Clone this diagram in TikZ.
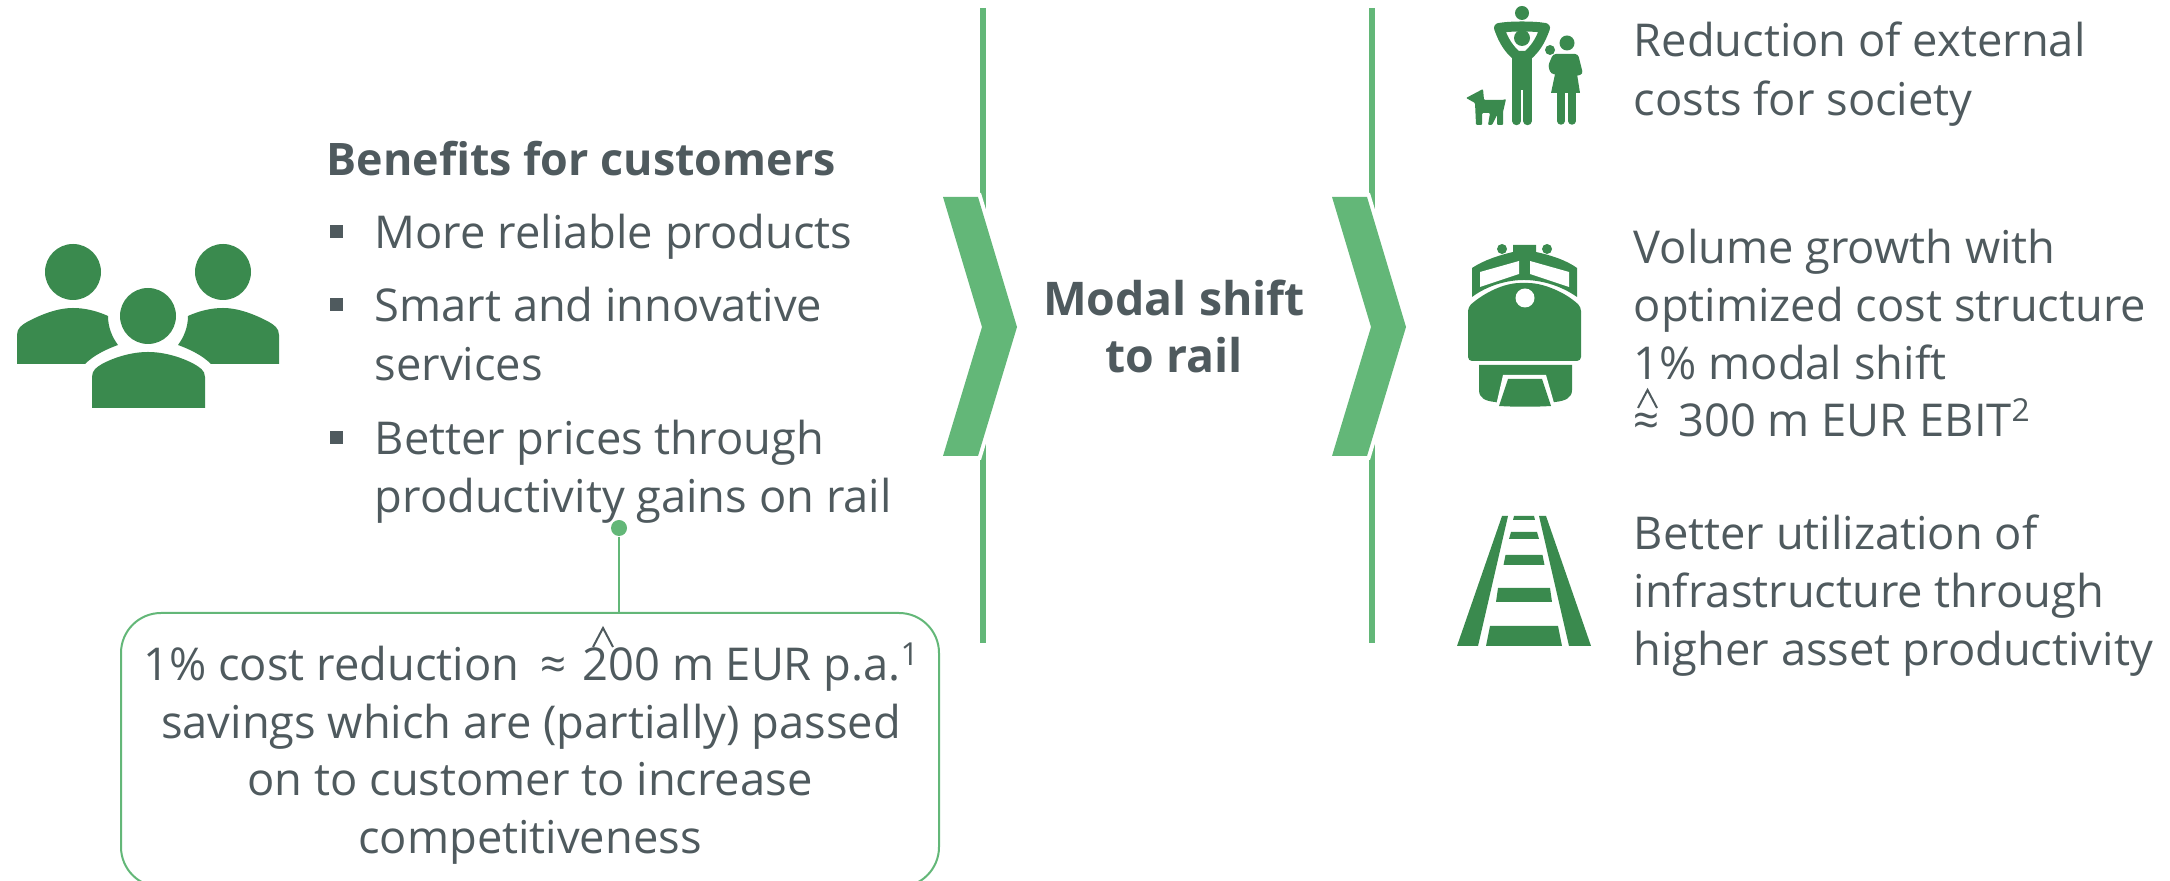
\documentclass[tikz,border=0pt]{standalone}
\usepackage{fontspec}
\setmainfont{Open Sans}
\usepackage{tikz}
\usetikzlibrary{positioning}
\definecolor{leafgreen}{HTML}{3A8A4E}
\definecolor{palegreen}{HTML}{63B778}
\definecolor{slatetext}{HTML}{4F5A5E}

\begin{document}
\begin{tikzpicture}[x=0.1mm,y=-0.1mm,
                    bodytext/.style={anchor=base west,inner sep=0,align=left,text=slatetext,font=\fontsize{12.88}{16.4}\selectfont},
                    midtext/.style={anchor=base,inner sep=0,align=center,text=slatetext,font=\fontsize{12.88}{16.4}\selectfont},
                    headtext/.style={anchor=base,inner sep=0,align=center,text=slatetext,font=\fontsize{13.2}{16.4}\selectfont\bfseries},
                    bullet/.style={rectangle,fill=slatetext,inner sep=0,minimum size=1.3mm},
                    pin/.style={circle,fill=palegreen,inner sep=0,minimum size=1.6mm},
                    callout/.style={rectangle,rounded corners=4mm,draw=palegreen,line width=0.2mm,minimum width=81.8mm,minimum height=27.4mm,anchor=north west},
                    hatline/.style={draw=slatetext,line width=0.2mm},
                    rule/.style={draw=palegreen,line width=0.6mm}
                ]
    \useasboundingbox (0,0) rectangle (2170,881);

    % customers
    \foreach \x/\y in {73/272,223/272,148/316}
        {
        \fill[leafgreen] (\x,\y) circle (28);
        }
    \fill[leafgreen] (17,364) -- (17,335) .. controls (17,328) and (22,325) .. (27,322) .. controls (40,315) and (57,308) .. (73,308) .. controls (85,308) and (97,311) .. (108,316) .. controls (108,327) and (112,337) .. (118,345) .. controls (107,349) and (94,355) .. (85,364) -- cycle;
    \fill[leafgreen] (279,364) -- (279,335) .. controls (279,328) and (274,325) .. (269,322) .. controls (256,315) and (239,308) .. (223,308) .. controls (211,308) and (199,311) .. (188,316) .. controls (188,327) and (184,337) .. (178,345) .. controls (189,349) and (202,355) .. (211,364) -- cycle;
    \fill[leafgreen] (92,408) -- (92,377) .. controls (92,370) and (97,367) .. (102,364) .. controls (115,357) and (132,352) .. (148,352) .. controls (164,352) and (181,357) .. (194,364) .. controls (199,367) and (205,370) .. (205,377) -- (205,408) -- cycle;

    \node[headtext,anchor=base west,font=\fontsize{12.75}{16.4}\selectfont\bfseries] (benefits) at (326,176) {Benefits for customers};
    \foreach \y in {232,305,438}
        {
        \node[bullet] at (336,\y) {};
        }
    \node[bodytext] (reliable) at (374,249) {More reliable products};
    \node[bodytext] (smart) at (374,322) {Smart and innovative};
    \node[bodytext] (services) at (374,381) {services};
    \node[bodytext] (prices) at (374,455) {Better prices through};
    \node[bodytext] (gains) at (374,513) {productivity gains on rail};

    % savings
    \node[pin] (dot) at (619,528) {};
    \node[callout] (savings) at (120,612) {};
    \draw[draw=palegreen,line width=0.25mm] (dot) -- (dot |- savings.north);
    \node[midtext] (costline) at (532,681) {1\% cost reduction\hspace{1mm} ≈\hspace{0.4mm} 200 m EUR p.a.\textsuperscript{1}};
    \node[midtext] (passedline) at (531,739) {savings which are (partially) passed};
    \node[midtext] (onlineline) at (530,796) {on to customer to increase};
    \node[midtext] (compline) at (530,854) {competitiveness};
    \draw[hatline] (593,647) -- (603,628) -- (613,647);

    % chevrons
    \foreach \x in {0,389}
        {
        \draw[rule] (983+\x,8) -- (983+\x,643);
        \fill[palegreen,preaction={draw=white,line width=0.8mm}] (943+\x,197) -- (978+\x,197) -- (1017+\x,327) -- (978+\x,456) -- (943+\x,456) -- (982+\x,327) -- cycle;
        }
    \node[headtext] (modal) at (1174,316) {Modal shift};
    \node[headtext] (torail) at (1174,373) {to rail};

    % family
    \fill[leafgreen] (1522,13) circle (7);
    \draw[leafgreen,line width=1mm,line join=round] (1499,28) .. controls (1510,26) and (1534,26) .. (1545,28) .. controls (1540,42) and (1535,49) .. (1527,56) -- (1517,56) .. controls (1509,49) and (1504,42) .. (1499,28) -- cycle;
    \fill[leafgreen] (1522,38) circle (8);
    \fill[leafgreen] (1512,52) rectangle (1532,90);
    \draw[leafgreen,line width=0.85mm,line cap=round] (1516.5,85) -- (1516.5,121);
    \draw[leafgreen,line width=0.85mm,line cap=round] (1527.5,85) -- (1527.5,121);
    \fill[leafgreen] (1567,43) circle (7.5);
    \fill[leafgreen] (1550,50) circle (5);
    \fill[leafgreen,rounded corners=0.3mm] (1553,54) -- (1578,54) -- (1583,74) -- (1577,76) -- (1551,74) -- (1548,66) -- cycle;
    \fill[leafgreen] (1555,74) -- (1577,74) -- (1580,93) -- (1551,93) -- cycle;
    \draw[leafgreen,line width=0.75mm,line cap=round] (1561,90) -- (1561,121);
    \draw[leafgreen,line width=0.75mm,line cap=round] (1572,90) -- (1572,121);
    \fill[leafgreen,rounded corners=0.1mm] (1466,98) -- (1483,89) -- (1484,100) -- (1503,100) -- (1506,99) -- (1503,112) -- (1503,125) -- (1497,125) -- (1497,115) -- (1492,125) -- (1488,125) -- (1490,113) -- (1482,113) -- (1482,125) -- (1476,125) -- (1475,103) -- cycle;

    % locomotive
    \fill[leafgreen] (1472,268) .. controls (1484,260) and (1500,255) .. (1513,252) -- (1513,245) -- (1536,245) -- (1536,252) .. controls (1550,255) and (1566,260) .. (1577,268) -- (1577,297) .. controls (1560,285) and (1540,280) .. (1524,280) .. controls (1508,280) and (1488,285) .. (1472,297) -- cycle;
    \fill[white] (1480,272) -- (1519,261) -- (1519,274) -- (1480,287) -- cycle;
    \fill[white] (1530,261) -- (1569,272) -- (1569,287) -- (1530,274) -- cycle;
    \foreach \x in {1502,1547}
        {
        \fill[leafgreen] (\x,249) circle (5);
        }
    \fill[leafgreen,rounded corners=0.4mm] (1468,361) -- (1468,307) .. controls (1485,292) and (1505,283) .. (1524,283) .. controls (1543,283) and (1565,292) .. (1581,307) -- (1581,361) -- cycle;
    \fill[white] (1525,298) circle (9.5);
    \fill[leafgreen] (1479,365) -- (1572,365) -- (1572,390) .. controls (1572,398) and (1565,401) .. (1555,402) .. controls (1535,407) and (1515,407) .. (1495,402) .. controls (1485,401) and (1479,398) .. (1479,390) -- cycle;
    \fill[white] (1503,375) -- (1546,375) -- (1556,410) -- (1495,410) -- cycle;
    \fill[leafgreen] (1508,379) -- (1542,379) -- (1551,406) .. controls (1535,407) and (1515,407) .. (1499,406) -- cycle;

    % track
    \fill[leafgreen] (1502,516) -- (1508,516) -- (1478,646) -- (1457,646) -- cycle;
    \fill[leafgreen] (1539,516) -- (1546,516) -- (1591,646) -- (1569,646) -- cycle;
    \foreach \ya/\yb/\wa/\wb in {516/520/10/11,532/539/13/15,555/565/18.5/20.5,588/602/26/28,626/646/34/38}
        {
        \fill[leafgreen] (1524-\wa,\ya) -- (1524+\wa,\ya) -- (1524+\wb,\yb) -- (1524-\wb,\yb) -- cycle;
        }

    % outcomes
    \node[bodytext] (reduction) at (1633,57) {Reduction of external};
    \node[bodytext] (society) at (1633,116) {costs for society};
    \node[bodytext] (volume) at (1633,264) {Volume growth with};
    \node[bodytext] (structure) at (1633,322) {optimized cost structure};
    \node[bodytext] (shift) at (1633,380) {1\% modal shift};
    \node[bodytext] (ebit) at (1633,437) {≈\hspace{0.7mm} 300 m EUR EBIT\textsuperscript{2}};
    \draw[hatline] (1638,408) -- (1647.5,390) -- (1657,408);
    \node[bodytext] (utilization) at (1633,550) {Better utilization of};
    \node[bodytext] (infrastructure) at (1633,608) {infrastructure through};
    \node[bodytext] (productivity) at (1633,666) {higher asset productivity};
\end{tikzpicture}
\end{document}
